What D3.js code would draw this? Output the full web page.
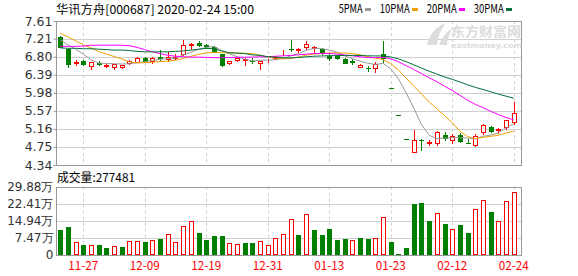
<!DOCTYPE html>
<html><head><meta charset="utf-8">
<script src="https://cdn.jsdelivr.net/npm/d3@7"></script>
<style>body{margin:0;background:#fff;} svg{display:block}</style>
</head><body><svg id="c" width="578" height="276"></svg>
<script>
// ---------------- data ----------------
const title = "华讯方舟[000687] 2020-02-24 15:00";
const volTitle = "成交量:277481";
const dates = ["11-22","11-25","11-26","11-27","11-28","11-29","12-02","12-03","12-04","12-05",
  "12-06","12-09","12-10","12-11","12-12","12-13","12-16","12-17","12-18","12-19",
  "12-20","12-23","12-24","12-25","12-26","12-27","12-30","12-31","01-02","01-03",
  "01-06","01-07","01-08","01-09","01-10","01-13","01-14","01-15","01-16","01-17",
  "01-20","01-21","01-22","01-23","02-03","02-04","02-05","02-06","02-07","02-10",
  "02-11","02-12","02-13","02-14","02-17","02-18","02-19","02-20","02-21","02-24"];
const opens = [7.24,6.97,6.665,6.71,6.59,6.66,6.59,6.56,6.57,6.65,
  6.69,6.78,6.70,6.79,6.755,6.77,6.85,7.06,7.12,7.058,
  7.02,6.85,6.65,6.72,6.73,6.71,6.65,6.705,6.76,6.88,
  6.985,6.955,7.01,6.99,6.98,6.81,6.81,6.75,6.71,6.57,
  6.545,6.535,6.87,6.085,5.475,4.935,4.63,4.905,4.85,4.83,
  5.01,4.91,5.01,4.835,4.80,5.10,5.20,5.125,5.21,5.31];
const highs = [7.27,6.98,6.72,6.73,6.69,6.71,6.63,6.63,6.62,6.73,
  6.79,6.79,6.79,6.96,6.91,6.87,7.18,7.12,7.15,7.09,
  7.04,6.86,6.71,6.77,6.76,6.77,6.71,6.74,6.82,6.95,
  7.18,7.00,7.16,7.05,6.99,6.86,6.82,6.76,6.75,6.63,
  6.59,6.67,7.16,6.085,5.475,4.935,5.14,4.92,4.91,5.12,
  5.09,5.04,5.06,4.92,5.04,5.26,5.23,5.19,5.37,5.78];
const lows = [7.01,6.57,6.62,6.62,6.51,6.60,6.57,6.52,6.535,6.63,
  6.67,6.69,6.65,6.73,6.70,6.74,6.83,6.98,7.04,7.00,
  6.90,6.59,6.64,6.71,6.62,6.66,6.53,6.68,6.74,6.83,
  6.94,6.91,6.98,6.91,6.87,6.72,6.74,6.65,6.63,6.56,
  6.47,6.46,6.69,6.08,5.47,4.93,4.63,4.68,4.79,4.80,
  4.91,4.83,4.855,4.83,4.77,5.04,5.09,5.06,5.16,5.27];
const closes = [7.03,6.63,6.67,6.64,6.68,6.64,6.61,6.625,6.61,6.70,
  6.77,6.70,6.78,6.76,6.795,6.80,7.06,7.09,7.07,7.035,
  6.91,6.61,6.70,6.76,6.74,6.695,6.70,6.71,6.80,6.89,
  6.975,6.965,7.095,7.02,6.88,6.78,6.76,6.66,6.69,6.61,
  6.535,6.63,6.78,6.08,5.47,4.93,4.91,4.90,4.86,5.10,
  4.96,5.00,4.88,4.83,5.00,5.255,5.12,5.16,5.36,5.51];
// volume in 万
const volumes = [10.9,12.4,5.5,4.4,4.4,4.4,3.1,3.9,3.6,6.0,
  6.0,5.7,6.4,7.0,9.0,5.5,12.5,14.7,9.6,6.6,
  8.3,8.3,5.1,4.7,5.2,5.2,6.0,4.2,7.4,9.0,
  15.7,8.7,17.8,10.9,8.7,11.4,6.6,7.0,6.4,7.6,
  7.0,7.3,16.5,5.7,0.4,3.1,22.3,22.7,14.9,18.2,
  13.6,11.2,13.1,9.6,20.1,24.1,18.8,14.7,23.6,27.7481];
const ma5Head = [7.18,7.07,6.97,6.86];
const ma10Head = [7.33,7.25,7.16,7.07,7.00,6.92,6.86,6.805,6.75];
const ma20Head = [7.035,7.035,7.035,7.04,7.06,7.06,7.06,7.06,7.06,7.05,
  7.01,6.96,6.91,6.87,6.83,6.81,6.80,6.79,6.79];
const ma30Head = [7.00,6.99,6.99,6.98,6.98,6.97,6.96,6.95,6.95,6.94,
  6.92,6.91,6.91,6.91,6.91,6.92,6.93,6.95,6.97,6.99,
  6.98,6.93,6.89,6.88,6.87,6.84,6.83,6.80,6.79];
const maLabels = ["5PMA","10PMA","20PMA","30PMA"];
const maPeriods = [5,10,20,30];
const priceTicks = [7.61,7.21,6.80,6.39,5.98,5.57,5.16,4.75,4.34];
const volTicks = [29.88,22.41,14.94,7.47,0];
const dateTicks = ["11-27","12-09","12-19","12-31","01-13","01-23","02-12","02-24"];

// ---------------- layout ----------------
const L = 56, R = 522;
const PT = 21, PB = 165;
const VT = 186.7, VB = 255;
const UP = "#ff0000", DOWN = "#008000";
const maColors = ["#999999","#f0a000","#ff00ff","#006f3c"];
const gridC = "#cfcfcf", borderC = "#999999";
const cjk = "'Noto Sans CJK SC', sans-serif";
const num = "'DejaVu Sans', sans-serif";

const svg = d3.select("#c");
const x = d3.scalePoint().domain(dates).range([60.2, 513.7]);
const y = d3.scaleLinear().domain([4.34, 7.61]).range([PB, PT]);
const yv = d3.scaleLinear().domain([0, 29.88]).range([VB, VT]);
const px = v => Math.round(v) + 0.5;

// grid
const g = svg.append("g");
g.selectAll(".hp").data(priceTicks.slice(1, -1)).join("line")
  .attr("x1", L).attr("x2", R).attr("y1", d => px(y(d))).attr("y2", d => px(y(d)))
  .attr("stroke", gridC);
g.selectAll(".hv").data(volTicks.slice(1, -1)).join("line")
  .attr("x1", L).attr("x2", R).attr("y1", d => px(yv(d))).attr("y2", d => px(yv(d)))
  .attr("stroke", gridC);
[[PT, PB], [VT, VB]].forEach(([t, b]) => {
  g.selectAll(null).data(dateTicks).join("line")
    .attr("x1", d => px(x(d))).attr("x2", d => px(x(d))).attr("y1", t).attr("y2", b)
    .attr("stroke", gridC).attr("stroke-dasharray", "3,3");
});
// borders
[[PT, PB], [VT, VB]].forEach(([t, b]) => {
  svg.append("rect").attr("x", L + 0.5).attr("y", Math.round(t) + 0.5)
    .attr("width", R - L - 1).attr("height", Math.round(b) - Math.round(t))
    .attr("fill", "none").attr("stroke", borderC);
});

// watermark
const wm = svg.append("g").attr("fill", "#dcdcdc");
wm.append("path").attr("d", "M427,45 C429,35 435,27 446,23 C441,29 438,36 437,45 Z M439,45 C442,37 447,31 452,29 C449,35 447,40 447,45 Z");
wm.append("text").attr("x", 451).attr("y", 36).attr("font-family", cjk).attr("font-weight", "bold")
  .attr("font-size", 13).attr("textLength", 70).attr("lengthAdjust", "spacingAndGlyphs").text("东方财富网");
wm.append("text").attr("x", 451).attr("y", 47.5).attr("font-family", num).attr("font-weight", "bold")
  .attr("font-size", 7.5).attr("textLength", 71).attr("lengthAdjust", "spacingAndGlyphs").text("eastmoney.com");

// moving averages
function ma(n, head) {
  return closes.map((c, i) => i < n - 1 ? head[i] : d3.mean(closes.slice(i - n + 1, i + 1)));
}
const maSeries = [ma(5, ma5Head), ma(10, ma10Head), ma(20, ma20Head), ma(30, ma30Head)];

// candles
const data = dates.map((d, i) => ({d, i, o: opens[i], h: highs[i], l: lows[i], c: closes[i], v: volumes[i]}));
const cg = svg.append("g").attr("shape-rendering", "crispEdges");
data.forEach(k => {
  const cx = Math.round(x(k.d));
  const up = k.c > k.o;
  const col = up ? UP : DOWN;
  const top = Math.round(y(Math.max(k.o, k.c))), bot = Math.round(y(Math.min(k.o, k.c)));
  cg.append("line").attr("x1", cx + 0.5).attr("x2", cx + 0.5)
    .attr("y1", Math.round(y(k.h))).attr("y2", Math.round(y(k.l)) + 1).attr("stroke", col);
  if (up) {
    cg.append("rect").attr("x", cx - 1.5).attr("y", top + 0.5).attr("width", 4)
      .attr("height", Math.max(0, bot - top)).attr("fill", "#fff").attr("stroke", col);
  } else {
    cg.append("rect").attr("x", cx - 2).attr("y", top).attr("width", 5)
      .attr("height", Math.max(1, bot - top + 1)).attr("fill", col);
  }
});

// MA lines
maSeries.forEach((s, j) => {
  svg.append("path").datum(s)
    .attr("d", d3.line().x((v, i) => x(dates[i])).y(v => y(v)))
    .attr("fill", "none").attr("stroke", maColors[j]).attr("stroke-width", 1);
});

// volume bars
const vg = svg.append("g").attr("shape-rendering", "crispEdges");
data.forEach(k => {
  const cx = Math.round(x(k.d));
  const up = k.i === 0 ? k.c > k.o : k.c >= closes[k.i - 1];
  const top = Math.round(yv(k.v));
  if (up) {
    vg.append("rect").attr("x", cx - 1.5).attr("y", top + 0.5).attr("width", 4)
      .attr("height", Math.max(0, VB - top - 1)).attr("fill", "#fff").attr("stroke", UP);
  } else {
    vg.append("rect").attr("x", cx - 2).attr("y", top).attr("width", 5)
      .attr("height", Math.max(1, VB - top)).attr("fill", DOWN);
  }
});

// axes
const ax = svg.append("g").attr("transform", `translate(${L + 0.5},0)`)
  .call(d3.axisLeft(y).tickValues(priceTicks).tickSize(3).tickPadding(1).tickFormat(d3.format(".2f")));
ax.select(".domain").remove();
ax.selectAll("line").attr("stroke", borderC);
ax.selectAll("text").attr("font-family", num).attr("font-size", 12.5).attr("fill", "#333");

const avx = svg.append("g").attr("transform", `translate(${L + 0.5},0)`)
  .call(d3.axisLeft(yv).tickValues(volTicks).tickSize(0).tickPadding(3)
    .tickFormat(d => d === 0 ? "0" : d3.format(".2f")(d) + "万"));
avx.select(".domain").remove();
avx.selectAll("text").attr("font-family", num).attr("font-size", 12).attr("fill", "#333");

svg.append("g").selectAll("text").data(dateTicks).join("text")
  .attr("x", d => x(d)).attr("y", 270).attr("text-anchor", "middle")
  .attr("font-family", cjk).attr("font-size", 12).attr("fill", "#ff0000")
  .attr("textLength", 30).attr("lengthAdjust", "spacingAndGlyphs").text(d => d);

// titles
svg.append("text").attr("x", 56).attr("y", 14).attr("font-family", cjk).attr("font-size", 12)
  .attr("fill", "#000").attr("textLength", 198).attr("lengthAdjust", "spacingAndGlyphs").text(title);
svg.append("text").attr("x", 57).attr("y", 182).attr("font-family", cjk).attr("font-size", 12)
  .attr("fill", "#000").attr("textLength", 78).attr("lengthAdjust", "spacingAndGlyphs").text(volTitle);

// legend
let lx = 338.7;
maLabels.forEach((t, j) => {
  const w = t.length * 6;
  svg.append("text").attr("x", lx).attr("y", 13).attr("font-family", cjk).attr("font-size", 12)
    .attr("fill", "#000").attr("textLength", w).attr("lengthAdjust", "spacingAndGlyphs").text(t);
  svg.append("rect").attr("x", Math.round(lx + w + 2)).attr("y", 8).attr("width", 6).attr("height", 3)
    .attr("fill", maColors[j]);
  lx += w + 17;
});
</script></body></html>
